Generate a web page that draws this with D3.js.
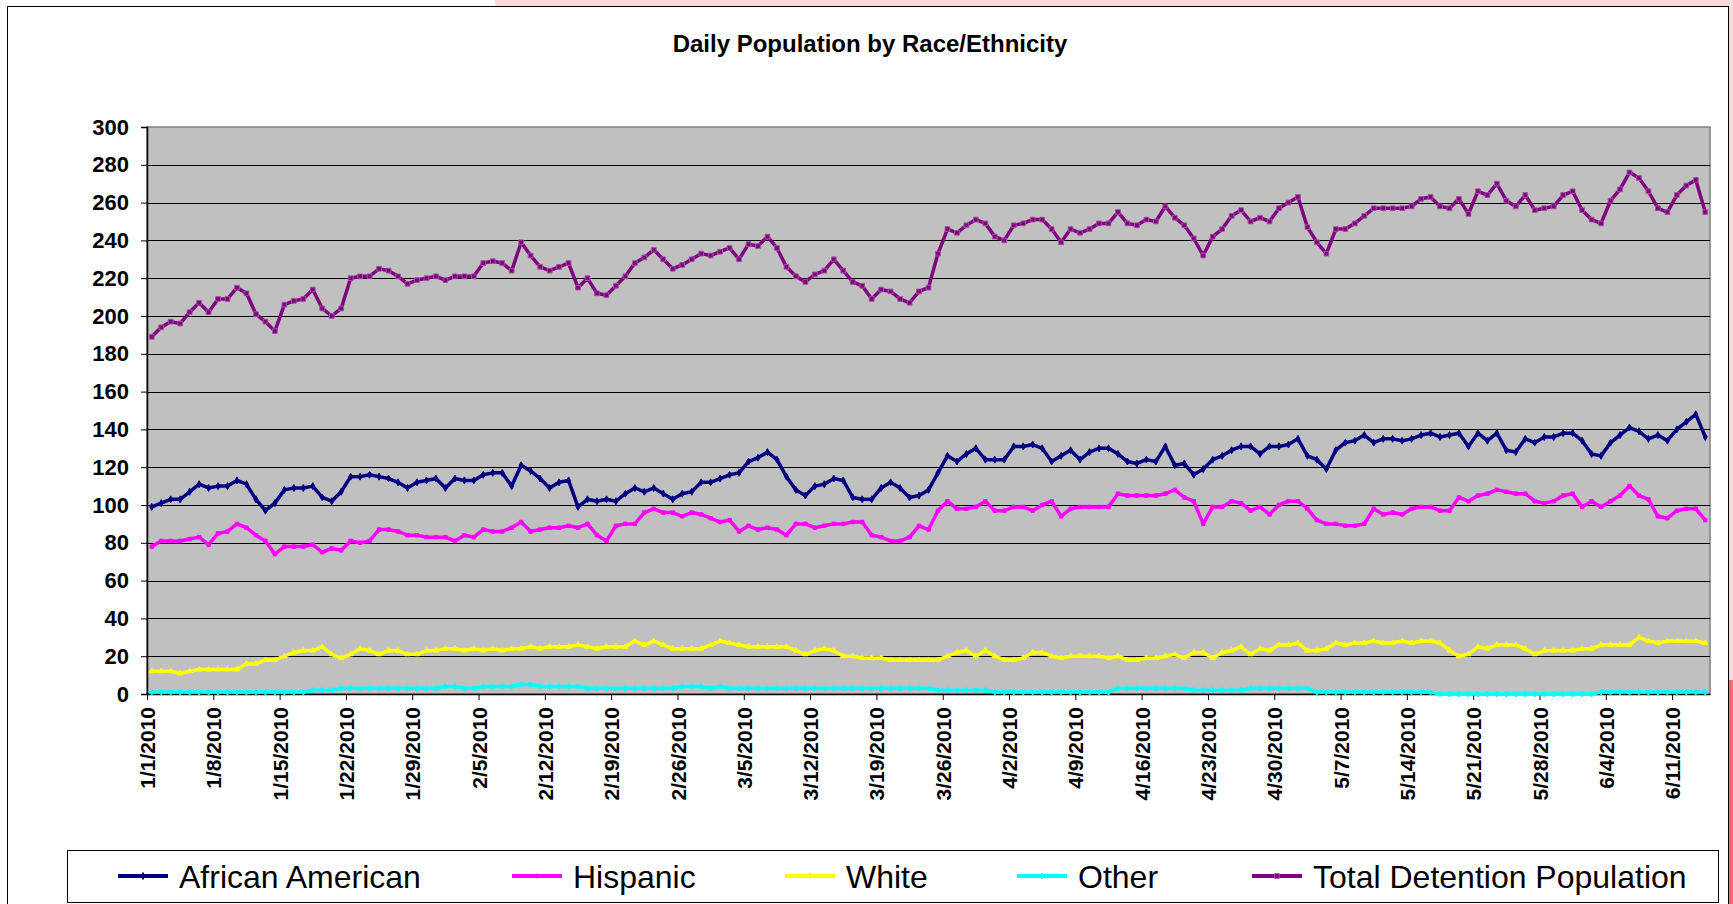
<!DOCTYPE html>
<html>
<head>
<meta charset="utf-8">
<title>Daily Population by Race/Ethnicity</title>
<script src="https://cdn.jsdelivr.net/npm/d3@7"></script>
<style>
  body { margin: 0; background: #fff; }
  svg { display: block; font-family: Arial, "Liberation Sans", sans-serif; }
</style>
</head>
<body>
<script>
// Page and plot geometry
const WIDTH = 1733;
const HEIGHT = 904;
const PLOT = { left: 147, right: 1710, top: 127, bottom: 694 };

// Categories: one per day, 1/1/2010 .. 6/14/2010
const days = d3.timeDay.range(new Date(2010, 0, 1), new Date(2010, 5, 15));

const tickLabels = [
  "1/1/2010", "1/8/2010", "1/15/2010", "1/22/2010", "1/29/2010", "2/5/2010",
  "2/12/2010", "2/19/2010", "2/26/2010", "3/5/2010", "3/12/2010", "3/19/2010",
  "3/26/2010", "4/2/2010", "4/9/2010", "4/16/2010", "4/23/2010", "4/30/2010",
  "5/7/2010", "5/14/2010", "5/21/2010", "5/28/2010", "6/4/2010", "6/11/2010"
];

const yTicks = [0, 20, 40, 60, 80, 100, 120, 140, 160, 180, 200, 220, 240, 260, 280, 300];

// Series values
const africanAmerican = [
  99, 101, 103, 103, 107, 111, 109, 110, 110, 113, 111, 103, 97, 101, 108, 109, 109, 110, 104, 102, 107, 115, 115, 116, 115, 114, 112,
  109, 112, 113, 114, 109, 114, 113, 113, 116, 117, 117, 110, 121, 118, 114, 109, 112, 113, 99, 103, 102, 103, 102, 106, 109, 107, 109, 106,
  103, 106, 107, 112, 112, 114, 116, 117, 123, 125, 128, 124, 115, 108, 105, 110, 111, 114, 113, 104, 103, 103, 109, 112, 109, 104, 105,
  108, 117, 126, 123, 127, 130, 124, 124, 124, 131, 131, 132, 130, 123, 126, 129, 124, 128, 130, 130, 127, 123, 122, 124, 123, 131, 121, 122,
  116, 119, 124, 126, 129, 131, 131, 127, 131, 131, 132, 135, 126, 124, 119, 129, 133, 134, 137, 133, 135, 135, 134, 135, 137, 138, 136,
  137, 138, 131, 138, 134, 138, 129, 128, 135, 133, 136, 136, 138, 138, 134, 127, 126, 133, 137, 141, 139, 135, 137, 134, 140, 144, 148, 136
];

const hispanic = [
  78, 81, 81, 81, 82, 83, 79, 85, 86, 90, 88, 84, 81, 74, 78, 78, 78, 79, 75, 77, 76, 81, 80, 81, 87, 87, 86,
  84, 84, 83, 83, 83, 81, 84, 83, 87, 86, 86, 88, 91, 86, 87, 88, 88, 89, 88, 90, 84, 81, 89, 90, 90, 96, 98, 96,
  96, 94, 96, 95, 93, 91, 92, 86, 89, 87, 88, 87, 84, 90, 90, 88, 89, 90, 90, 91, 91, 84, 83, 81, 81, 83, 89,
  87, 97, 102, 98, 98, 99, 102, 97, 97, 99, 99, 97, 100, 102, 94, 98, 99, 99, 99, 99, 106, 105, 105, 105, 105, 106, 108, 104,
  102, 90, 99, 99, 102, 101, 97, 99, 95, 100, 102, 102, 98, 92, 90, 90, 89, 89, 90, 98, 95, 96, 95, 98, 99, 99, 97,
  97, 104, 102, 105, 106, 108, 107, 106, 106, 102, 101, 102, 105, 106, 99, 102, 99, 102, 105, 110, 105, 103, 94, 93, 97, 98, 98, 92
];

const white = [
  12, 12, 12, 11, 12, 13, 13, 13, 13, 13, 16, 16, 18, 18, 20, 22, 23, 23, 25, 21, 19, 21, 24, 23, 21, 23, 23,
  21, 21, 23, 23, 24, 24, 23, 24, 23, 24, 23, 24, 24, 25, 24, 25, 25, 25, 26, 25, 24, 25, 25, 25, 28, 26, 28, 26,
  24, 24, 24, 24, 26, 28, 27, 26, 25, 25, 25, 25, 25, 23, 21, 23, 24, 23, 20, 20, 19, 19, 19, 18, 18, 18, 18,
  18, 18, 20, 22, 23, 20, 23, 20, 18, 18, 19, 22, 22, 20, 19, 20, 20, 20, 20, 19, 20, 18, 18, 19, 19, 20, 21, 19,
  22, 22, 19, 22, 23, 25, 21, 24, 23, 26, 26, 27, 23, 23, 24, 27, 26, 27, 27, 28, 27, 27, 28, 27, 28, 28, 27,
  23, 20, 21, 25, 24, 26, 26, 26, 24, 21, 23, 23, 23, 23, 24, 24, 26, 26, 26, 26, 30, 28, 27, 28, 28, 28, 28, 27
];

const other = [
  1, 1, 1, 1, 1, 1, 1, 1, 1, 1, 1, 1, 1, 1, 1, 1, 1, 2, 2, 2,
  3, 3, 3, 3, 3, 3, 3, 3, 3, 3, 3, 4, 4, 3, 3, 4, 4, 4, 4, 5,
  5, 4, 4, 4, 4, 4, 3, 3, 3, 3, 3, 3, 3, 3, 3, 3, 4, 4, 4, 3,
  4, 3, 3, 3, 3, 3, 3, 3, 3, 3, 3, 3, 3, 3, 3, 3, 3, 3, 3, 3,
  3, 3, 3, 2, 2, 2, 2, 2, 2, 1, 1, 1, 1, 1, 1, 1, 1, 1, 1, 1,
  1, 1, 3, 3, 3, 3, 3, 3, 3, 3, 2, 2, 2, 2, 2, 2, 3, 3, 3, 3,
  3, 3, 3, 1, 1, 1, 1, 1, 1, 1, 1, 1, 1, 1, 1, 1, 0, 0, 0, 0,
  0, 0, 0, 0, 0, 0, 0, 0, 0, 0, 0, 0, 0, 1, 1, 1, 1, 1, 1, 1,
  1, 1, 1, 1, 1
];

const totalDetention = [
  189, 194, 197, 196, 202, 207, 202, 209, 209, 215, 212, 201, 197, 192, 206, 208, 209, 214, 204, 200, 204, 220, 221, 221, 225, 224, 221,
  217, 219, 220, 221, 219, 221, 221, 221, 228, 229, 228, 224, 239, 232, 226, 224, 226, 228, 215, 220, 212, 211, 216, 221, 228, 231, 235, 230,
  225, 227, 230, 233, 232, 234, 236, 230, 238, 237, 242, 236, 226, 221, 218, 222, 224, 230, 224, 218, 216, 209, 214, 213, 209, 207, 213,
  215, 233, 246, 244, 248, 251, 249, 242, 240, 248, 249, 251, 251, 246, 239, 246, 244, 246, 249, 249, 255, 249, 248, 251, 250, 258, 252, 248,
  241, 232, 242, 246, 253, 256, 250, 252, 250, 257, 260, 263, 247, 239, 233, 246, 246, 249, 253, 257, 257, 257, 257, 258, 262, 263, 258,
  257, 262, 254, 266, 264, 270, 261, 258, 264, 256, 257, 258, 264, 266, 256, 251, 249, 261, 267, 276, 273, 266, 257, 255, 264, 269, 272, 255
];

const series = [
  { name: "African American", values: africanAmerican, color: "#000080", marker: "diamond" },
  { name: "Hispanic", values: hispanic, color: "#FF00FF", marker: "square" },
  { name: "White", values: white, color: "#FFFF00", marker: "triangle" },
  { name: "Other", values: other, color: "#00FFFF", marker: "cross" },
  { name: "Total Detention Population", values: totalDetention, color: "#800080", marker: "star" }
];

// SVG
const svg = d3.select("body")
  .append("svg")
  .attr("width", WIDTH)
  .attr("height", HEIGHT);

// faint pink backdrop peeking out behind the chart frame
svg.append("polygon")
  .attr("points", "494,0 1733,0 1733,904 1729,904 1729,6 496,6")
  .attr("fill", "#fbdcdc");
svg.append("rect")
  .attr("x", 1729).attr("y", 680).attr("width", 4).attr("height", 224)
  .attr("fill", "#f26a6a");

// chart frame
svg.append("rect")
  .attr("x", 7.5).attr("y", 6.5)
  .attr("width", 1721).attr("height", 910)
  .attr("fill", "#fff")
  .attr("stroke", "#000")
  .attr("stroke-width", 1);

// Title
svg.append("text")
  .attr("x", 870)
  .attr("y", 52)
  .attr("text-anchor", "middle")
  .style("font-size", "24px")
  .style("font-weight", "bold")
  .text("Daily Population by Race/Ethnicity");

// Scales
const xScale = d3.scaleBand()
  .domain(d3.range(days.length))
  .range([PLOT.left, PLOT.right])
  .padding(0);

const xTickScale = d3.scaleLinear()
  .domain([0, days.length])
  .range([PLOT.left, PLOT.right]);

const yScale = d3.scaleLinear()
  .domain([0, 300])
  .range([PLOT.bottom, PLOT.top]);

const fmt = d => `${d.getMonth() + 1}/${d.getDate()}/${d.getFullYear()}`;
const labelIndex = days.map((d, i) => tickLabels.includes(fmt(d)) ? i : -1).filter(i => i >= 0);

// Plot area
svg.append("rect")
  .attr("x", PLOT.left)
  .attr("y", PLOT.top)
  .attr("width", PLOT.right - PLOT.left)
  .attr("height", PLOT.bottom - PLOT.top)
  .attr("fill", "#C0C0C0")
  .attr("stroke", "#808080")
  .attr("stroke-width", 1.5);

// Gridlines
svg.append("g")
  .selectAll("line")
  .data(yTicks.filter(v => v > 0 && v < 300))
  .enter()
  .append("line")
  .attr("x1", PLOT.left)
  .attr("x2", PLOT.right)
  .attr("y1", d => Math.round(yScale(d)) + 0.5)
  .attr("y2", d => Math.round(yScale(d)) + 0.5)
  .attr("stroke", "#000")
  .attr("stroke-width", 1);

// Y axis
const yAxis = d3.axisLeft(yScale)
  .tickValues(yTicks)
  .tickSize(6)
  .tickPadding(12);

svg.append("g")
  .attr("transform", `translate(${PLOT.left}, 0)`)
  .call(yAxis)
  .call(g => g.select(".domain").attr("stroke", "#000").attr("stroke-width", 1.5))
  .call(g => g.selectAll("line").attr("stroke", "#000"))
  .call(g => g.selectAll("text")
    .style("font-size", "22px")
    .style("font-weight", "bold")
    .style("font-family", "Arial, 'Liberation Sans', sans-serif")
    .attr("fill", "#000"));

// X axis
const xAxis = d3.axisBottom(xTickScale)
  .tickValues(labelIndex)
  .tickFormat(i => fmt(days[i]))
  .tickSize(6)
  .tickSizeOuter(0);

svg.append("g")
  .attr("transform", `translate(0, ${PLOT.bottom})`)
  .call(xAxis)
  .call(g => g.select(".domain").attr("stroke", "#000").attr("stroke-width", 1.5))
  .call(g => g.selectAll("line").attr("stroke", "#000"))
  .call(g => g.selectAll("text")
    .attr("transform", "rotate(-90)")
    .attr("x", -13)
    .attr("y", 0)
    .attr("dy", "0.36em")
    .attr("text-anchor", "end")
    .style("font-size", "21px")
    .style("font-weight", "bold")
    .style("font-family", "Arial, 'Liberation Sans', sans-serif")
    .attr("fill", "#000"));

// Lines
const line = d3.line()
  .x((d, i) => xScale(i) + xScale.bandwidth() / 2)
  .y(d => yScale(d));

const markerPath = {
  diamond: d3.symbol().type(d3.symbolDiamond).size(14),
  square: d3.symbol().type(d3.symbolSquare).size(12),
  triangle: d3.symbol().type(d3.symbolTriangle).size(12),
  cross: d3.symbol().type(d3.symbolCross).size(12),
  star: d3.symbol().type(d3.symbolSquare).size(22)
};

const seriesGroup = svg.append("g");

series.forEach(s => {
  const g = seriesGroup.append("g");
  g.append("path")
    .datum(s.values)
    .attr("fill", "none")
    .attr("stroke", s.color)
    .attr("stroke-width", 3.5)
    .attr("stroke-linejoin", "round")
    .attr("d", line);

  g.selectAll(".pt")
    .data(s.values)
    .enter()
    .append("path")
    .attr("class", "pt")
    .attr("transform", (d, i) => `translate(${xScale(i) + xScale.bandwidth() / 2}, ${yScale(d)})`)
    .attr("d", markerPath[s.marker]())
    .attr("fill", s.color)
    .attr("stroke", s.marker === "star" ? "#a050a0" : s.color)
    .attr("stroke-width", 1);
});

// Legend
const legend = svg.append("g");
legend.append("rect")
  .attr("x", 67.5)
  .attr("y", 850.5)
  .attr("width", 1651)
  .attr("height", 52)
  .attr("fill", "#fff")
  .attr("stroke", "#000")
  .attr("stroke-width", 1);

const legendX = [118, 512, 785, 1017, 1252];
const legendY = 876;

series.forEach((s, i) => {
  const g = legend.append("g").attr("transform", `translate(${legendX[i]}, ${legendY})`);
  g.append("line")
    .attr("x1", 0).attr("x2", 50)
    .attr("y1", 0).attr("y2", 0)
    .attr("stroke", s.color)
    .attr("stroke-width", 4);
  g.append("path")
    .attr("transform", "translate(25, 0)")
    .attr("d", markerPath[s.marker]())
    .attr("fill", s.color)
    .attr("stroke", s.marker === "star" ? "#a050a0" : s.color);
  g.append("text")
    .attr("x", 61)
    .attr("y", 0)
    .attr("dy", "0.36em")
    .style("font-size", "32px")
    .attr("fill", "#000")
    .text(s.name);
});
</script>
</body>
</html>
